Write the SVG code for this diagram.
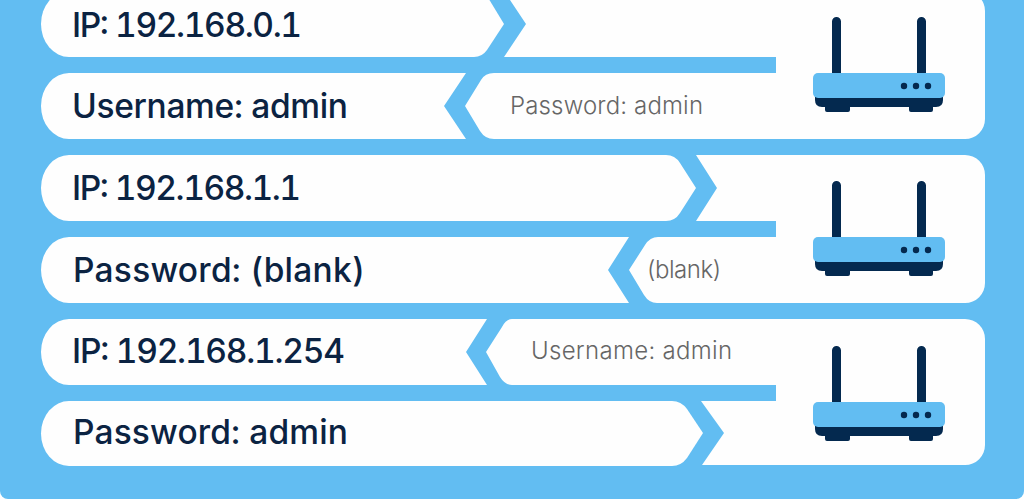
<svg xmlns="http://www.w3.org/2000/svg" width="1024" height="499" viewBox="0 0 1024 499">
<style>
.p{fill:#fefefe}
.t{font-family:Inter,"Liberation Sans",sans-serif;font-size:33.500px;font-weight:550;fill:#0b2342;font-feature-settings:"tnum"}
.g{font-family:Inter,"Liberation Sans",sans-serif;font-size:24px;font-weight:300;fill:#666}
.a{fill:#04294f}
.b{fill:#62bdf2}
</style>
<defs>
<g id="router">
<path class="a" d="M832 73V21.500a4.500 4.500 0 0 1 9 0V73ZM917 73V21.500a4.500 4.500 0 0 1 9 0V73Z"/>
<path class="a" d="M815 96H943V100Q943 107 936 107H933V110Q933 112 931 112H911Q909 112 909 110V107H850V110Q850 112 848 112H827Q825 112 825 110V107H822Q815 107 815 100Z"/>
<rect class="b" x="813" y="73" width="132" height="25" rx="5"/>
<circle class="a" cx="904" cy="86" r="3.200"/><circle class="a" cx="916" cy="86" r="3.200"/><circle class="a" cx="928" cy="86" r="3.200"/>
</g>
</defs>
<rect width="1024" height="499" fill="#fff"/>
<rect x="0" y="-20" width="1024" height="519" rx="8" fill="#62bdf2"/>
<g id="row1">
<path class="p" d="M69 -9H484L504 24L487 50Q482 57 474 57H69A28 33 0 0 1 69 -9Z"/>
<path class="p" d="M69 73H466L444 106L466 139H69A28 33 0 0 1 69 73Z"/>
<path class="p" d="M504 -9H965A20 20 0 0 1 985 11V119A20 20 0 0 1 965 139H494Q485 139 480 131L465 106L481 80Q485 73 494 73H776V57H504L526 24Z"/>
<text class="t" x="72" y="37" textLength="230">IP: 192.168.0.1</text>
<text class="t" x="72" y="118" textLength="276">Username: admin</text>
<text class="g" x="510" y="114" textLength="193">Password: admin</text>
<use href="#router"/>
</g>
<g id="row2">
<path class="p" d="M69 155H666Q675 155 680 163L696 188L680 213Q675 221 666 221H69A28 33 0 0 1 69 155Z"/>
<path class="p" d="M69 237H629L608 270L629 303H69A28 33 0 0 1 69 237Z"/>
<path class="p" d="M696 155H965A20 20 0 0 1 985 175V283A20 20 0 0 1 965 303H657Q649 303 644 295L629 270L645 245Q650 237 658 237H776V221H696L717 188Z"/>
<text class="t" x="72" y="200" textLength="229">IP: 192.168.1.1</text>
<text class="t" x="73" y="282" textLength="292">Password: (blank)</text>
<text class="g" x="647" y="278" textLength="74">(blank)</text>
<use href="#router" y="164"/>
</g>
<g id="row3">
<path class="p" d="M69 319H487L466 352L487 385H69A28 33 0 0 1 69 319Z"/>
<path class="p" d="M69 401H672Q681 401 687 409L703 433L687 458Q681 466 672 466H69A28 32.500 0 0 1 69 401Z"/>
<path class="p" d="M512 319H965A20 20 0 0 1 985 339V445A20 20 0 0 1 965 465H702L724 433L701 401H776V385H512Q505 385 500 377L486 352L502 327Q506 319 512 319Z"/>
<text class="t" x="72" y="363" textLength="273">IP: 192.168.1.254</text>
<text class="t" x="73" y="444" textLength="275">Password: admin</text>
<text class="g" x="531" y="359" textLength="201">Username: admin</text>
<use href="#router" y="329"/>
</g>
<g id="connectors"/>
</svg>
